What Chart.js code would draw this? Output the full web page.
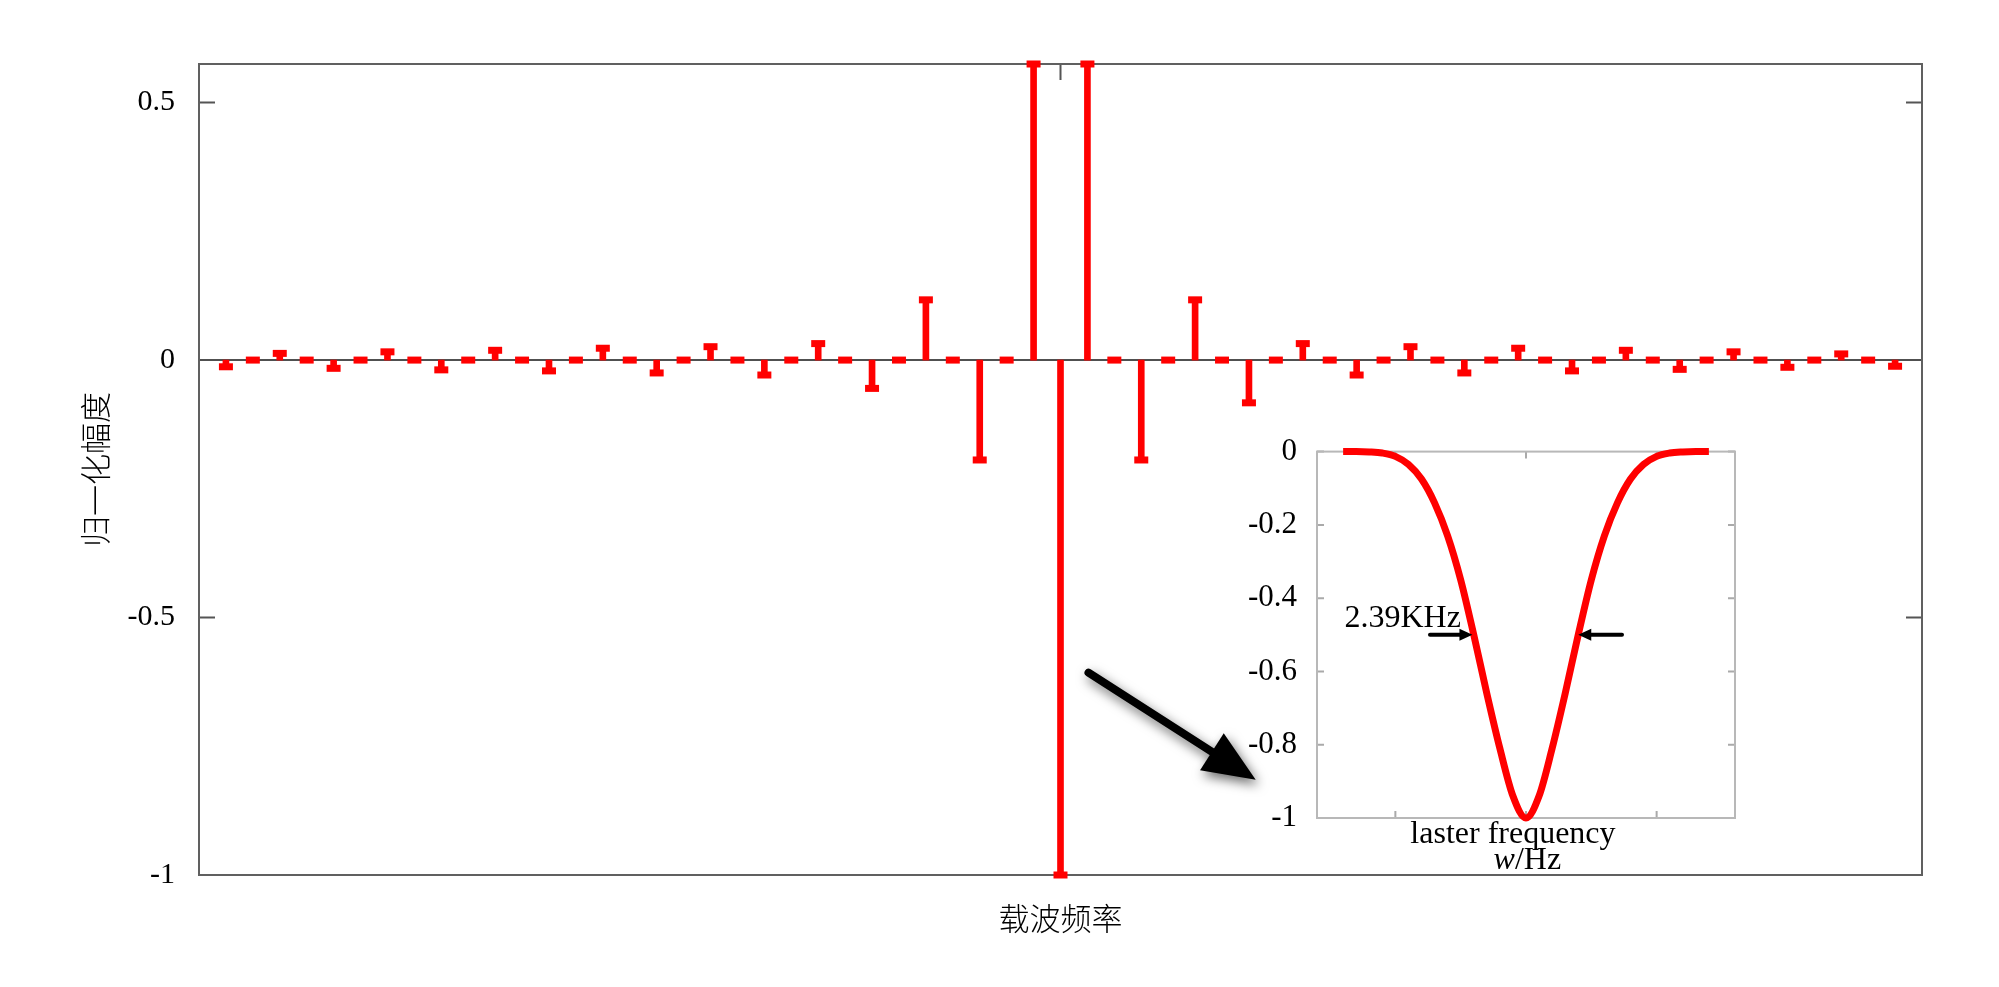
<!DOCTYPE html>
<html><head><meta charset="utf-8">
<script src="https://cdn.jsdelivr.net/npm/chart.js@4/dist/chart.umd.min.js"></script>
<style>
html,body{margin:0;padding:0;background:#fff;overflow:hidden;}
#wrap{position:relative;width:1999px;height:987px;}
#main{position:absolute;left:0;top:0;}
#inset{position:absolute;left:1230px;top:421px;}
</style></head><body>
<div id="wrap"><canvas id="main" width="1999" height="987"></canvas><canvas id="inset" width="520" height="459"></canvas></div>
<script>
// ---- main chart data ----
const carrierOffsets = [-31,-30,-29,-28,-27,-26,-25,-24,-23,-22,-21,-20,-19,-18,-17,-16,-15,-14,-13,-12,-11,-10,-9,-8,-7,-6,-5,-4,-3,-2,-1,0,1,2,3,4,5,6,7,8,9,10,11,12,13,14,15,16,17,18,19,20,21,22,23,24,25,26,27,28,29,30,31];
const normalizedAmplitude = [-0.013,0,0.013,0,-0.016,0,0.016,0,-0.019,0,0.019,0,-0.021,0,0.023,0,-0.025,0,0.026,0,-0.029,0,0.032,0,-0.055,0,0.117,0,-0.194,0,0.575,-1,0.575,0,-0.194,0,0.117,0,-0.083,0,0.032,0,-0.029,0,0.026,0,-0.025,0,0.023,0,-0.021,0,0.019,0,-0.018,0,0.016,0,-0.014,0,0.012,0,-0.012];
const mainYTicks = [-1,-0.5,0,0.5];
const mainYTickLabels = ['-1','-0.5','0','0.5'];
const mainXTicks = [0];
const mainYTitle = '归一化幅度';
const mainXTitle = '载波频率';
// big arrow annotation (data coords of main chart)
const bigArrowFrom = [1.04,-0.607];
const bigArrowTo = [7.25,-0.815];

// ---- inset data ----
const insetFrequency = [-1.4,-1.3,-1.2,-1.1,-1.0,-0.9,-0.8,-0.7,-0.6,-0.5,-0.4,-0.3,-0.2,-0.1,0,0.1,0.2,0.3,0.4,0.5,0.6,0.7,0.8,0.9,1.0,1.1,1.2,1.3,1.4];
const insetResponse = [0,0,-0.001,-0.004,-0.013,-0.035,-0.075,-0.14,-0.23,-0.35,-0.5,-0.66,-0.81,-0.94,-1,-0.94,-0.81,-0.66,-0.5,-0.35,-0.23,-0.14,-0.075,-0.035,-0.013,-0.004,-0.001,0,0];
const insetYTicks = [-1,-0.8,-0.6,-0.4,-0.2,0];
const insetYTickLabels = ['-1','-0.8','-0.6','-0.4','-0.2','0'];
const insetXTicks = [-1,0,1];
const fwhmLabel = '2.39KHz';
const fwhmLevel = -0.5;
const fwhmArrowLeft = [-0.735,-0.41];
const fwhmArrowRight = [0.735,0.40];
const insetXTitle1 = 'laster frequency';
const insetXTitle2a = 'w';
const insetXTitle2b = '/Hz';

const SERIF = "'Liberation Serif','Times New Roman',serif";
const CJK = "'Noto Sans CJK SC','Noto Sans',sans-serif";
Chart.defaults.font.family = SERIF;
Chart.defaults.color = '#000';

function drawFrame(chart, o) {
  const {ctx, chartArea: a, scales: {x, y}} = chart;
  ctx.save();
  ctx.strokeStyle = o.tickColor; ctx.lineWidth = o.tickWidth;
  ctx.beginPath();
  y.ticks.forEach(t => {
    const py = y.getPixelForValue(t.value);
    ctx.moveTo(a.left, py); ctx.lineTo(a.left + o.len, py);
    ctx.moveTo(a.right, py); ctx.lineTo(a.right - o.len, py);
  });
  x.ticks.forEach(t => {
    const px = x.getPixelForValue(t.value);
    ctx.moveTo(px, a.top); ctx.lineTo(px, a.top + o.len);
    ctx.moveTo(px, a.bottom); ctx.lineTo(px, a.bottom - o.len);
  });
  ctx.stroke();
  if (o.zeroLine) {
    const pz = y.getPixelForValue(0);
    ctx.strokeStyle = o.zeroColor; ctx.lineWidth = 2;
    ctx.beginPath(); ctx.moveTo(a.left, pz); ctx.lineTo(a.right, pz); ctx.stroke();
  }
  ctx.strokeStyle = o.boxColor; ctx.lineWidth = o.boxWidth;
  ctx.strokeRect(a.left, a.top, a.right - a.left, a.bottom - a.top);
  ctx.restore();
}

function arrow(ctx, x1, y1, x2, y2, lw, headLen, headHalf) {
  const ang = Math.atan2(y2 - y1, x2 - x1);
  const bx = x2 - headLen * Math.cos(ang), by = y2 - headLen * Math.sin(ang);
  ctx.lineWidth = lw; ctx.lineCap = 'round';
  ctx.beginPath(); ctx.moveTo(x1, y1); ctx.lineTo(bx + Math.cos(ang) * 2, by + Math.sin(ang) * 2); ctx.stroke();
  ctx.beginPath();
  ctx.moveTo(x2, y2);
  ctx.lineTo(bx + headHalf * Math.sin(ang), by - headHalf * Math.cos(ang));
  ctx.lineTo(bx - headHalf * Math.sin(ang), by + headHalf * Math.cos(ang));
  ctx.closePath(); ctx.fill();
}

const mainFrame = {
  id: 'mainFrame',
  beforeDatasetsDraw(chart) {
    drawFrame(chart, {len: 16, tickColor: '#555', tickWidth: 2, zeroLine: true, zeroColor: '#505050', boxColor: '#606060', boxWidth: 2});
  },
  afterDraw(chart) {
    const {ctx, scales: {x, y}} = chart;
    ctx.save();
    ctx.fillStyle = '#000'; ctx.strokeStyle = '#000';
    ctx.shadowColor = 'rgba(0,0,0,0.6)'; ctx.shadowBlur = 12; ctx.shadowOffsetX = 3; ctx.shadowOffsetY = 5;
    arrow(ctx, x.getPixelForValue(bigArrowFrom[0]), y.getPixelForValue(bigArrowFrom[1]),
               x.getPixelForValue(bigArrowTo[0]), y.getPixelForValue(bigArrowTo[1]), 8, 52, 22);
    ctx.restore();
  }
};

new Chart(document.getElementById('main'), {
  type: 'bar',
  data: {
    datasets: [
      {
        type: 'bar',
        data: carrierOffsets.map((c, i) => ({x: c, y: normalizedAmplitude[i]})),
        backgroundColor: '#ff0000',
        borderWidth: 0,
        barThickness: 6,
        clip: 10
      },
      {
        type: 'scatter',
        data: carrierOffsets.map((c, i) => ({x: c, y: normalizedAmplitude[i]})),
        showLine: false,
        pointStyle: 'line',
        pointRadius: 7,
        pointHoverRadius: 7,
        pointBorderWidth: 7,
        borderColor: '#ff0000',
        backgroundColor: '#ff0000',
        clip: 12
      }
    ]
  },
  options: {
    responsive: false,
    animation: false,
    devicePixelRatio: 1,
    layout: {padding: {left: 0, top: 64, right: 77, bottom: 0}},
    plugins: {legend: {display: false}, tooltip: {enabled: false}},
    scales: {
      x: {
        type: 'linear', min: -32, max: 32, offset: false,
        grid: {display: false, offset: false}, border: {display: false},
        afterBuildTicks: s => { s.ticks = mainXTicks.map(v => ({value: v})); },
        ticks: {display: false},
        title: {display: true, text: mainXTitle, font: {family: CJK, size: 31, weight: 300}, color: '#000', padding: {top: 0, bottom: 50}},
        afterFit: s => { s.height = 112; }
      },
      y: {
        type: 'linear', min: -1, max: 0.575,
        grid: {display: false}, border: {display: false},
        afterBuildTicks: s => { s.ticks = mainYTicks.map(v => ({value: v})); },
        ticks: {padding: 16, font: {size: 30}, color: '#000', callback: (v, i) => mainYTickLabels[i]},
        title: {display: true, text: mainYTitle, font: {family: CJK, size: 31, weight: 300}, color: '#000', padding: {top: 77, bottom: 0}},
        afterFit: s => { s.width = 199; }
      }
    }
  },
  plugins: [mainFrame]
});

const insetFrame = {
  id: 'insetFrame',
  beforeDatasetsDraw(chart) {
    drawFrame(chart, {len: 7, tickColor: '#aaa', tickWidth: 2, zeroLine: false, boxColor: '#b8b8b8', boxWidth: 2});
  },
  afterDraw(chart) {
    const {ctx, chartArea: a, scales: {x, y}} = chart;
    ctx.save();
    ctx.fillStyle = '#000'; ctx.strokeStyle = '#000';
    const py = y.getPixelForValue(fwhmLevel);
    arrow(ctx, x.getPixelForValue(fwhmArrowLeft[0]), py, x.getPixelForValue(fwhmArrowLeft[1]), py, 4, 13, 6);
    arrow(ctx, x.getPixelForValue(fwhmArrowRight[0]), py, x.getPixelForValue(fwhmArrowRight[1]), py, 4, 13, 6);
    ctx.font = '32px ' + SERIF;
    ctx.textAlign = 'left'; ctx.textBaseline = 'alphabetic';
    ctx.fillText(fwhmLabel, x.getPixelForValue(-1.39), y.getPixelForValue(-0.478));
    // x title
    ctx.textAlign = 'center';
    ctx.fillText(insetXTitle1, x.getPixelForValue(-0.1), a.bottom + 25);
    const fItal = 'italic 32px ' + SERIF, fReg = '32px ' + SERIF;
    ctx.font = fItal; const w1 = ctx.measureText(insetXTitle2a).width;
    ctx.font = fReg; const w2 = ctx.measureText(insetXTitle2b).width;
    const cx = x.getPixelForValue(0.01), startX = cx - (w1 + w2) / 2;
    ctx.textAlign = 'left';
    ctx.font = fItal; ctx.fillText(insetXTitle2a, startX, a.bottom + 51);
    ctx.font = fReg; ctx.fillText(insetXTitle2b, startX + w1, a.bottom + 51);
    ctx.restore();
  }
};

new Chart(document.getElementById('inset'), {
  type: 'line',
  data: {
    datasets: [{
      data: insetFrequency.map((f, i) => ({x: f, y: insetResponse[i]})),
      borderColor: '#ff0000',
      borderWidth: 7,
      pointRadius: 0,
      cubicInterpolationMode: 'monotone',
      fill: false,
      clip: 10
    }]
  },
  options: {
    responsive: false,
    animation: false,
    devicePixelRatio: 1,
    layout: {padding: {left: 0, top: 0, right: 15, bottom: 0}},
    plugins: {legend: {display: false}, tooltip: {enabled: false}},
    scales: {
      x: {
        type: 'linear', min: -1.6, max: 1.6,
        grid: {display: false}, border: {display: false},
        afterBuildTicks: s => { s.ticks = insetXTicks.map(v => ({value: v})); },
        ticks: {display: false},
        afterFit: s => { s.height = 62; }
      },
      y: {
        type: 'linear', min: -1, max: 0,
        grid: {display: false}, border: {display: false},
        afterBuildTicks: s => { s.ticks = insetYTicks.map(v => ({value: v})); },
        ticks: {padding: 12, font: {size: 31}, color: '#000', callback: (v, i) => insetYTickLabels[i]},
        afterFit: s => { s.width = 87; }
      }
    }
  },
  plugins: [insetFrame]
});
</script>
</body></html>
